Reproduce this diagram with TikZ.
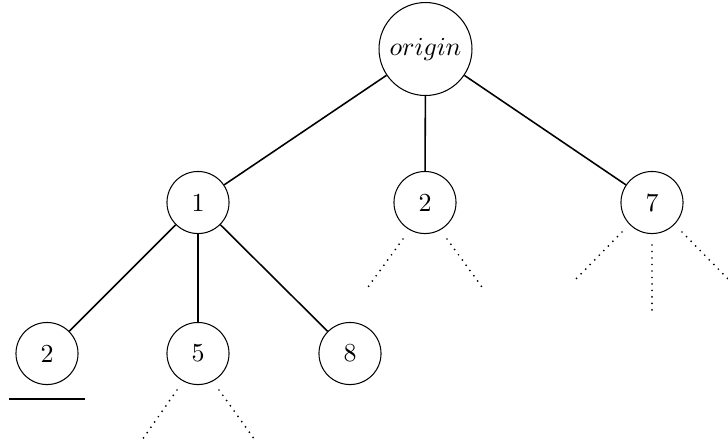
\documentclass[tikz,border=0pt]{standalone}
\begin{document}
\begin{tikzpicture}[x=0.385pt,y=-0.385pt,
  vtx/.style={circle,draw,minimum size=23.9pt,inner sep=0pt},
  root/.style={circle,draw,minimum size=35.8pt,inner sep=0pt},
  edge/.style={line width=0.6pt},
  leaf/.style={line width=0.75pt,line cap=round,dash pattern=on 0pt off 2.5pt}]
\useasboundingbox (0,0) rectangle (728,443);

% nodes
\node[root] (o) at (425.5,49) {$origin$};
\node[vtx] (a) at (198,202.5) {1};
\node[vtx] (b) at (425,202.5) {2};
\node[vtx] (c) at (652,202.5) {7};
\node[vtx] (d) at (47,353.5) {2};
\node[vtx] (e) at (198,353.5) {5};
\node[vtx] (f) at (350,353.5) {8};

% solid edges
\draw[edge] (o) -- (a);
\draw[edge] (o) -- (b);
\draw[edge] (o) -- (c);
\draw[edge] (a) -- (d);
\draw[edge] (a) -- (e);
\draw[edge] (a) -- (f);

% underline below the leftmost leaf
\coordinate (u1) at (9,399);
\coordinate (u2) at (85,399);
\draw[line width=0.65pt] (u1) -- (u2);

% dotted continuations
\coordinate (b1s) at (403,239); \coordinate (b1e) at (368,287);
\coordinate (b2s) at (447,239); \coordinate (b2e) at (482,287);
\draw[leaf] (b1s) -- (b1e);
\draw[leaf] (b2s) -- (b2e);

\coordinate (c1s) at (622,232); \coordinate (c1e) at (574,281);
\coordinate (c2s) at (652,245); \coordinate (c2e) at (652,312);
\coordinate (c3s) at (682,232); \coordinate (c3e) at (730,281);
\draw[leaf] (c1s) -- (c1e);
\draw[leaf] (c2s) -- (c2e);
\draw[leaf] (c3s) -- (c3e);

\coordinate (e1s) at (177,390); \coordinate (e1e) at (142,440);
\coordinate (e2s) at (219,390); \coordinate (e2e) at (255,440);
\draw[leaf] (e1s) -- (e1e);
\draw[leaf] (e2s) -- (e2e);
\end{tikzpicture}
\end{document}
